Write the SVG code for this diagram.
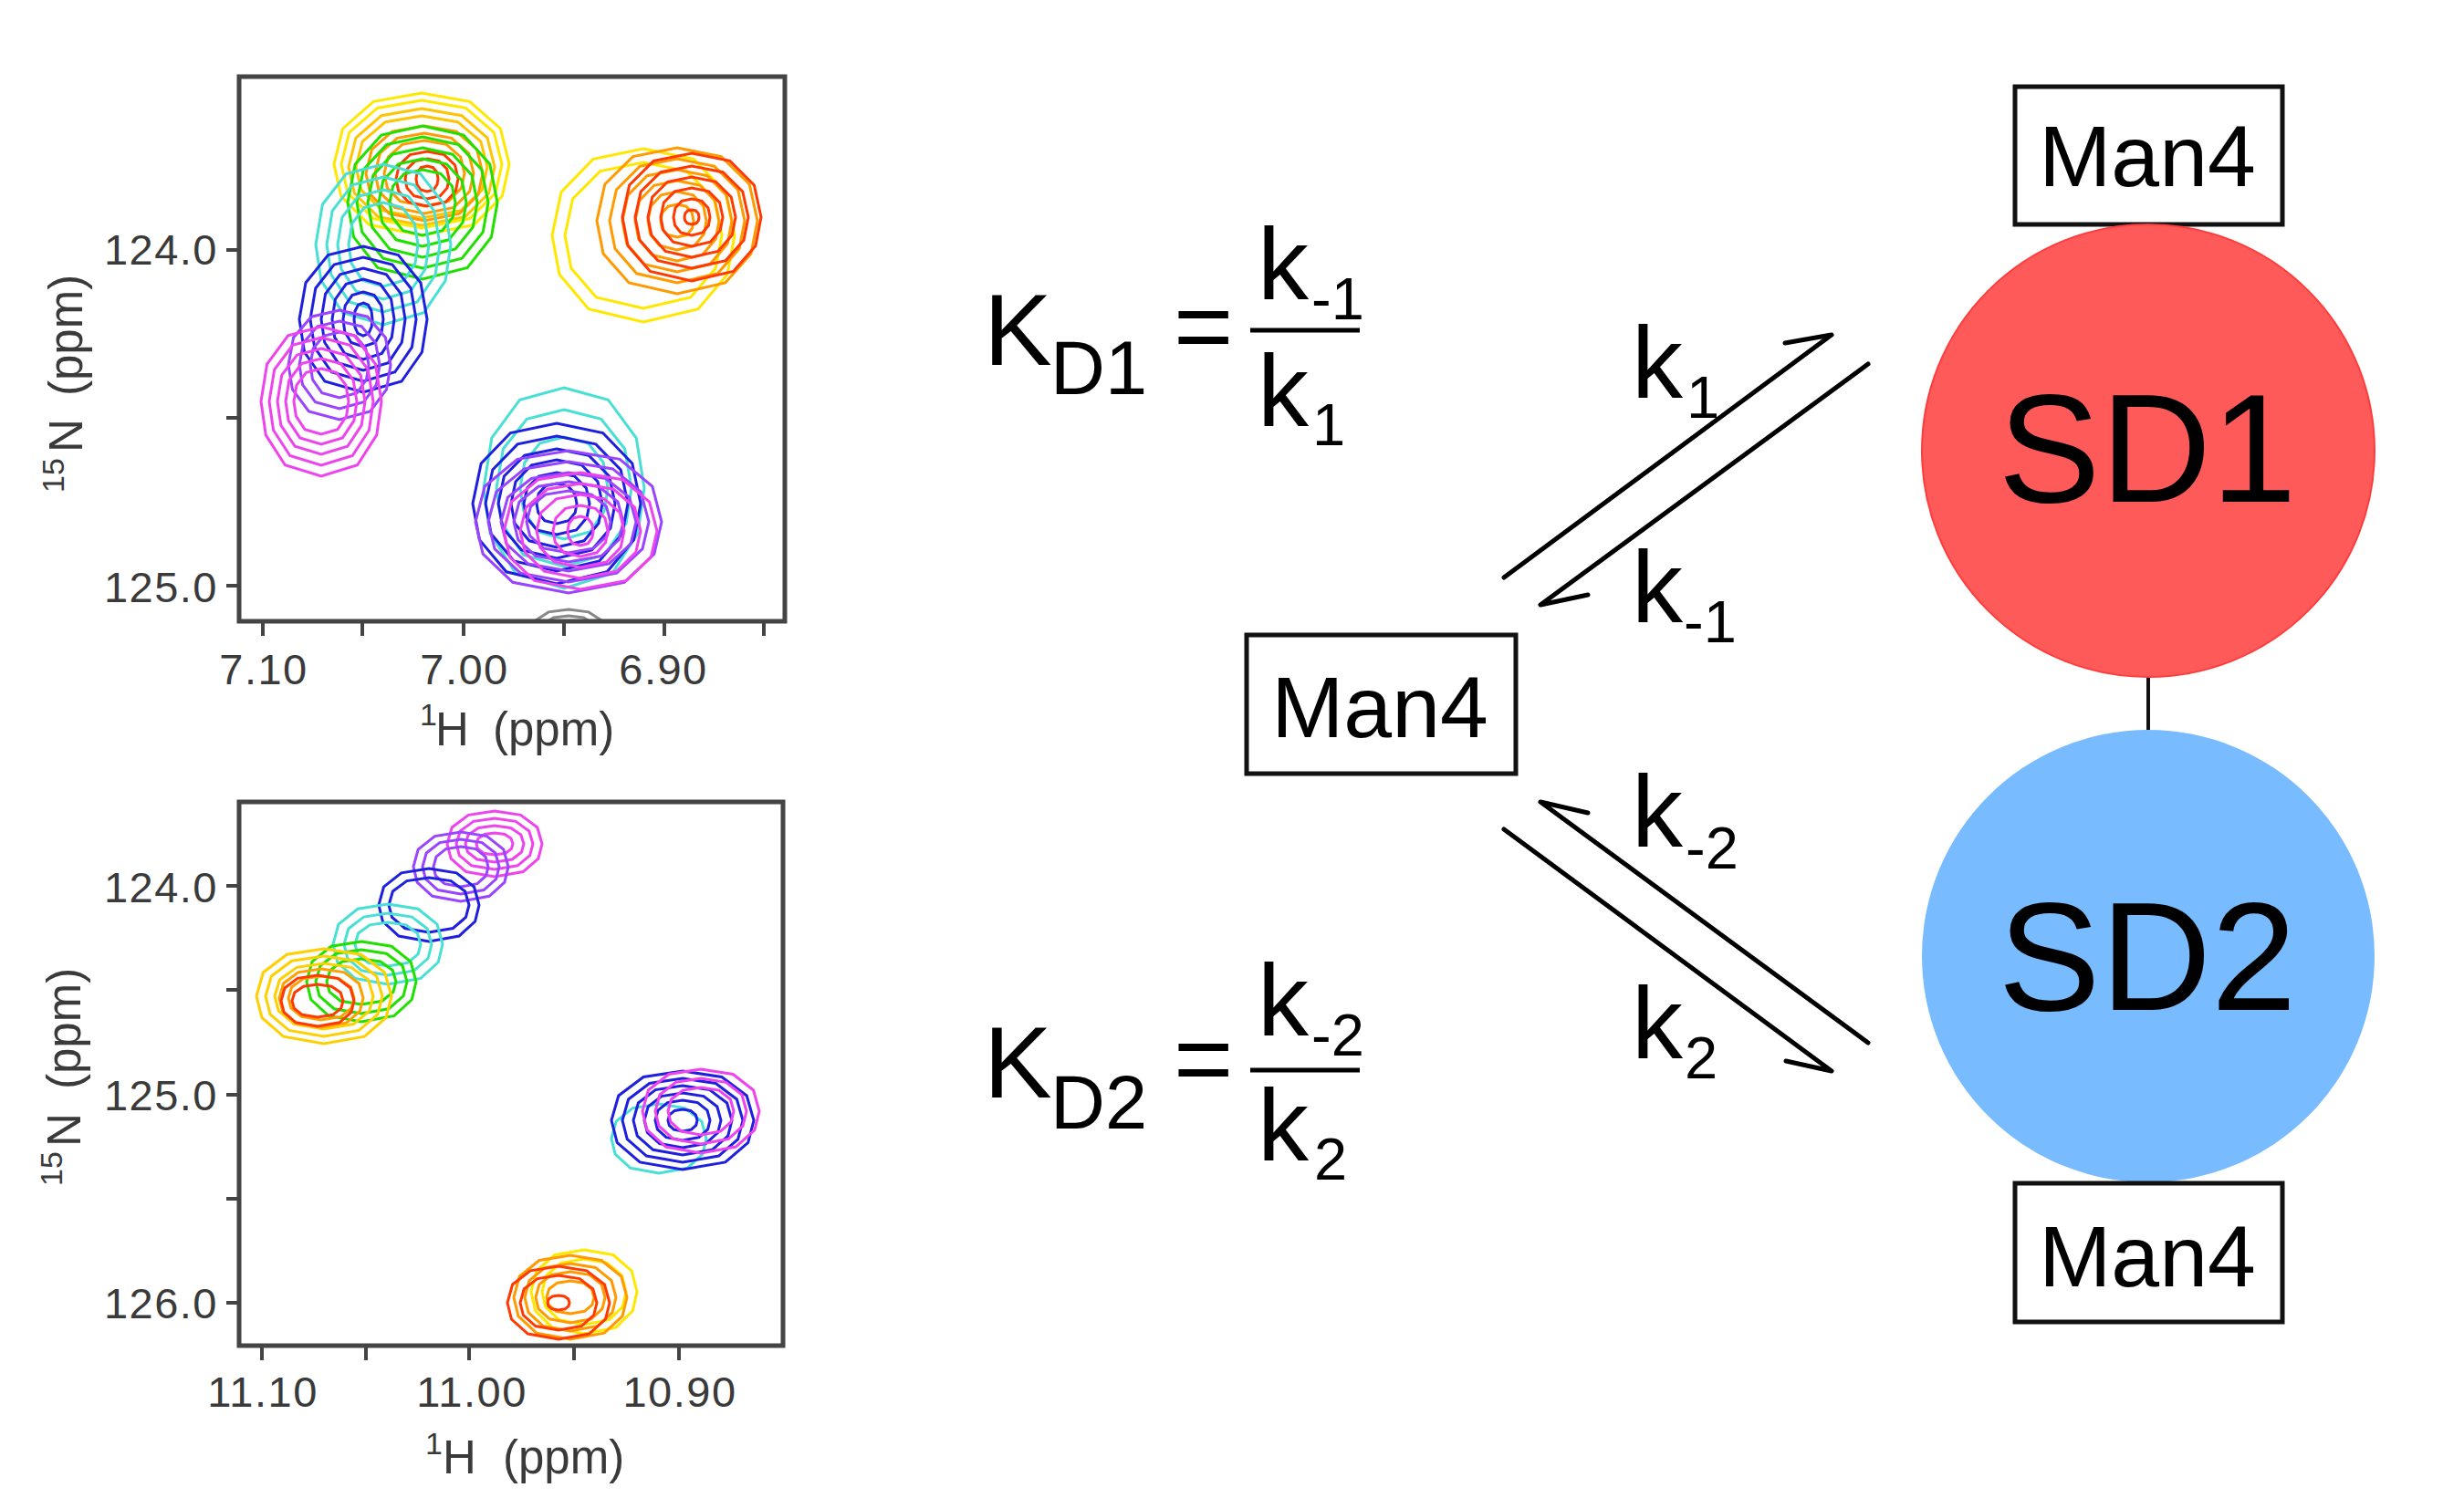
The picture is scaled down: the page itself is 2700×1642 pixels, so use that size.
<svg xmlns="http://www.w3.org/2000/svg" width="2700" height="1642" viewBox="0 0 2700 1642">
<style>
text{font-family:"Liberation Sans",Arial,sans-serif}
.ax{fill:#3a3a3a;font-size:47px;letter-spacing:1.5px}
.axl{fill:#3a3a3a;font-size:51px}
.sup{font-size:34px}
.frame{fill:none;stroke:#444;stroke-width:5}
.tick{stroke:#444;stroke-width:4}
.ct{stroke-width:3}
.eq{fill:#000;font-size:112px}
.sub{fill:#000;font-size:65px}
.box{fill:#fff;stroke:#111;stroke-width:5}
.lbl{font-size:95px;fill:#000;text-anchor:middle}
.sd{font-size:168px;fill:#000;text-anchor:middle}
.arr{fill:none;stroke:#000;stroke-width:5;stroke-linecap:round;stroke-linejoin:round}
</style>
<defs>
<path id="r" d="M0,-1 L0.55,-0.88 L0.9,-0.5 L1,0 L0.92,0.45 L0.6,0.85 L0,1 L-0.6,0.85 L-0.92,0.45 L-1,0 L-0.9,-0.5 L-0.55,-0.88 Z" fill="none" vector-effect="non-scaling-stroke"/>
<clipPath id="clipTop"><rect x="262" y="84" width="598" height="597"/></clipPath>
<clipPath id="clipBot"><rect x="262" y="879" width="596" height="596"/></clipPath>
</defs>
<rect width="2700" height="1642" fill="#fff"/>

<g id="spectrum-top">
<g class="ct" clip-path="url(#clipTop)">
<g stroke="#ffe800" transform="translate(462 180)"><use href="#r" transform="scale(96 78)"/><use href="#r" transform="scale(88 70)"/></g>
<g stroke="#ffc400" transform="translate(462 183)"><use href="#r" transform="scale(80 64)"/><use href="#r" transform="scale(72 56)"/></g>
<g stroke="#ff9a00" transform="translate(465 190)"><use href="#r" transform="scale(64 52)"/><use href="#r" transform="scale(54 44)"/><use href="#r" transform="scale(44 36)"/></g>
<g stroke="#ff3a00" transform="translate(468 196)"><use href="#r" transform="scale(34 30)"/><use href="#r" transform="scale(24 22)"/><use href="#r" transform="scale(12 14)"/></g>
<g stroke="#20e000" transform="translate(463 222)"><use href="#r" transform="scale(82 84)"/><use href="#r" transform="scale(72 72)"/><use href="#r" transform="scale(60 60)"/><use href="#r" transform="scale(48 48)"/><use href="#r" transform="scale(36 36)"/></g>
<g stroke="#48e0d4" transform="translate(420 268)"><use href="#r" transform="scale(74 88)"/><use href="#r" transform="scale(62 74)"/><use href="#r" transform="scale(50 60)"/><use href="#r" transform="scale(38 46)"/></g>
<g stroke="#1f1fe0" transform="translate(398 350)"><use href="#r" transform="scale(70 80)"/><use href="#r" transform="scale(58 68)"/><use href="#r" transform="scale(46 56)"/><use href="#r" transform="scale(34 44)"/><use href="#r" transform="scale(22 30)"/><use href="#r" transform="scale(10 18)"/></g>
<g stroke="#9944ff" transform="translate(372 400)"><use href="#r" transform="scale(56 60)"/><use href="#r" transform="scale(44 48)"/><use href="#r" transform="scale(32 36)"/></g>
<g stroke="#ee44ee" transform="translate(352 440)"><use href="#r" transform="scale(66 82)"/><use href="#r" transform="scale(57 70)"/><use href="#r" transform="scale(48 58)"/><use href="#r" transform="scale(39 47)"/><use href="#r" transform="scale(30 36)"/></g>
<g stroke="#ffe800" transform="translate(705 258)"><use href="#r" transform="scale(100 95)"/><use href="#r" transform="scale(86 80)"/></g>
<g stroke="#ff9a00" transform="translate(742 242)"><use href="#r" transform="scale(88 80)"/><use href="#r" transform="scale(74 68)"/><use href="#r" transform="scale(60 56)"/><use href="#r" transform="scale(46 44)"/><use href="#r" transform="scale(32 32)"/><use href="#r" transform="scale(18 18)"/></g>
<g stroke="#ff3a00" transform="translate(758 238)"><use href="#r" transform="scale(76 70)"/><use href="#r" transform="scale(62 56)"/><use href="#r" transform="scale(48 44)"/><use href="#r" transform="scale(34 32)"/><use href="#r" transform="scale(20 20)"/><use href="#r" transform="scale(8 8)"/></g>
<g stroke="#48e0d4" transform="translate(618 535)"><use href="#r" transform="scale(88 110)"/><use href="#r" transform="scale(74 86)"/><use href="#r" transform="scale(48 56)"/></g>
<g stroke="#1f1fe0" transform="translate(610 552)"><use href="#r" transform="scale(92 88)"/><use href="#r" transform="scale(78 74)"/><use href="#r" transform="scale(64 60)"/><use href="#r" transform="scale(50 48)"/><use href="#r" transform="scale(36 34)"/><use href="#r" transform="scale(22 22)"/></g>
<g stroke="#9944ff" transform="translate(623 572)"><use href="#r" transform="scale(102 78)"/><use href="#r" transform="scale(88 66)"/><use href="#r" transform="scale(74 54)"/><use href="#r" transform="scale(60 44)"/><use href="#r" transform="scale(46 34)"/></g>
<g stroke="#ee44ee" transform="translate(636 582)"><use href="#r" transform="scale(84 64)"/><use href="#r" transform="scale(66 52)"/><use href="#r" transform="scale(48 40)"/><use href="#r" transform="scale(30 28)"/><use href="#r" transform="scale(14 16)"/></g>
<g stroke="#888" transform="translate(623 692)"><use href="#r" transform="scale(40 24)"/><use href="#r" transform="scale(30 17)"/><use href="#r" transform="scale(20 10)"/></g>
</g>
<rect class="frame" x="262" y="84" width="598" height="597"/>
<path class="tick" d="M248,274H262M248,458H262M248,642H262M288,681V697M397,681V697M508,681V697M618,681V697M728,681V697M837,681V697"/>
<text class="ax" x="239" y="290" text-anchor="end">124.0</text>
<text class="ax" x="239" y="660" text-anchor="end">125.0</text>
<text class="ax" x="289" y="750" text-anchor="middle">7.10</text>
<text class="ax" x="509" y="750" text-anchor="middle">7.00</text>
<text class="ax" x="727" y="750" text-anchor="middle">6.90</text>
<text class="axl"><tspan class="sup" x="460" y="795">1</tspan><tspan x="477" y="817">H</tspan><tspan x="540" y="817">(ppm)</tspan></text>
<text class="axl" transform="translate(90 540) rotate(-90)"><tspan class="sup" x="0" y="-20">15</tspan><tspan x="44" y="0">N</tspan><tspan x="106" y="0">(ppm)</tspan></text>
</g>

<g id="spectrum-bottom">
<g class="ct" clip-path="url(#clipBot)">
<g stroke="#ee44ee" transform="translate(542 925)"><use href="#r" transform="scale(52 36)"/><use href="#r" transform="scale(42 28)"/><use href="#r" transform="scale(32 20)"/><use href="#r" transform="scale(20 12)"/></g>
<g stroke="#9944ff" transform="translate(505 950)"><use href="#r" transform="scale(52 38)"/><use href="#r" transform="scale(42 30)"/><use href="#r" transform="scale(30 22)"/></g>
<g stroke="#1f1fe0" transform="translate(470 992)"><use href="#r" transform="scale(55 40)"/><use href="#r" transform="scale(44 30)"/></g>
<g stroke="#48e0d4" transform="translate(425 1035)"><use href="#r" transform="scale(60 44)"/><use href="#r" transform="scale(48 34)"/><use href="#r" transform="scale(36 24)"/></g>
<g stroke="#20e000" transform="translate(396 1076)"><use href="#r" transform="scale(60 44)"/><use href="#r" transform="scale(50 35)"/><use href="#r" transform="scale(38 25)"/></g>
<g stroke="#ffd000" transform="translate(355 1092)"><use href="#r" transform="scale(74 52)"/><use href="#r" transform="scale(64 44)"/><use href="#r" transform="scale(54 36)"/></g>
<g stroke="#ffa000" transform="translate(352 1094)"><use href="#r" transform="scale(46 32)"/><use href="#r" transform="scale(36 24)"/></g>
<g stroke="#ff3a00" transform="translate(348 1097)"><use href="#r" transform="scale(40 28)"/><use href="#r" transform="scale(28 18)"/></g>
<g stroke="#48e0d4" transform="translate(722 1248)"><use href="#r" transform="scale(52 38)"/></g>
<g stroke="#1f1fe0" transform="translate(748 1228)"><use href="#r" transform="scale(78 54)"/><use href="#r" transform="scale(66 46)"/><use href="#r" transform="scale(54 38)"/><use href="#r" transform="scale(42 30)"/><use href="#r" transform="scale(30 22)"/><use href="#r" transform="scale(16 12)"/></g>
<g stroke="#ee44ee" transform="translate(768 1218)"><use href="#r" transform="scale(64 46)"/><use href="#r" transform="scale(50 36)"/><use href="#r" transform="scale(36 26)"/></g>
<g stroke="#ffe800" transform="translate(640 1416)"><use href="#r" transform="scale(58 46)"/><use href="#r" transform="scale(46 36)"/></g>
<g stroke="#ff9a00" transform="translate(625 1422)"><use href="#r" transform="scale(62 46)"/><use href="#r" transform="scale(50 37)"/><use href="#r" transform="scale(38 28)"/><use href="#r" transform="scale(26 18)"/></g>
<g stroke="#ff3a00" transform="translate(612 1428)"><use href="#r" transform="scale(56 40)"/><use href="#r" transform="scale(42 30)"/><use href="#r" transform="scale(12 8)"/></g>
</g>
<rect class="frame" x="262" y="879" width="596" height="596"/>
<path class="tick" d="M248,971H262M248,1085H262M248,1200H262M248,1314H262M248,1428H262M287,1475V1491M401,1475V1491M514,1475V1491M629,1475V1491M744,1475V1491"/>
<text class="ax" x="239" y="989" text-anchor="end">124.0</text>
<text class="ax" x="239" y="1217" text-anchor="end">125.0</text>
<text class="ax" x="239" y="1445" text-anchor="end">126.0</text>
<text class="ax" x="288" y="1542" text-anchor="middle">11.10</text>
<text class="ax" x="517" y="1542" text-anchor="middle">11.00</text>
<text class="ax" x="745" y="1542" text-anchor="middle">10.90</text>
<text class="axl"><tspan class="sup" x="466" y="1594">1</tspan><tspan x="485" y="1615">H</tspan><tspan x="551" y="1615">(ppm)</tspan></text>
<text class="axl" transform="translate(88 1300) rotate(-90)"><tspan class="sup" x="0" y="-20">15</tspan><tspan x="43" y="0">N</tspan><tspan x="106" y="0">(ppm)</tspan></text>
</g>

<g id="equation-kd1">
<text class="eq" x="1078" y="400">K</text>
<text class="eq" x="1151" y="432" style="font-size:83px">D1</text>
<text class="eq" x="1286" y="396">=</text>
<line x1="1370" y1="362" x2="1490" y2="362" stroke="#000" stroke-width="5"/>
<text class="eq" x="1378" y="328">k</text>
<text class="sub" x="1437" y="350">-1</text>
<text class="eq" x="1378" y="467">k</text>
<text class="sub" x="1438" y="488">1</text>
</g>

<g id="equation-kd2">
<text class="eq" x="1078" y="1203">K</text>
<text class="eq" x="1151" y="1237" style="font-size:83px">D2</text>
<text class="eq" x="1286" y="1199">=</text>
<line x1="1370" y1="1173" x2="1490" y2="1173" stroke="#000" stroke-width="5"/>
<text class="eq" x="1378" y="1135">k</text>
<text class="sub" x="1437" y="1157">-2</text>
<text class="eq" x="1378" y="1272">k</text>
<text class="sub" x="1440" y="1293">2</text>
</g>

<g id="connectors">
<polyline class="arr" points="1648,633 2007,367 1956,376"/>
<polyline class="arr" points="2047,399 1688,663 1740,652"/>
<polyline class="arr" points="2047,1143 1688,879 1740,891"/>
<polyline class="arr" points="1648,909 2007,1174 1957,1163"/>
<line x1="2354" y1="740" x2="2354" y2="802" stroke="#111" stroke-width="4"/>
<text class="eq" x="1788" y="436">k</text><text class="sub" x="1848" y="458">1</text>
<text class="eq" x="1788" y="682">k</text><text class="sub" x="1845" y="704">-1</text>
<text class="eq" x="1788" y="928">k</text><text class="sub" x="1847" y="952">-2</text>
<text class="eq" x="1788" y="1160">k</text><text class="sub" x="1846" y="1182">2</text>
</g>

<g id="man4-free">
<rect class="box" x="1366" y="696" width="295" height="152"/>
<text class="lbl" x="1512" y="808">Man4</text>
</g>

<g id="man4-top">
<rect class="box" x="2208" y="95" width="293" height="151"/>
<text class="lbl" x="2353" y="204">Man4</text>
</g>

<g id="sd1">
<circle cx="2354" cy="494" r="248" fill="#ff5a5a" stroke="#ff3c3c" stroke-width="2"/>
<text class="sd" x="2353" y="550">SD1</text>
</g>

<g id="sd2">
<circle cx="2354" cy="1048" r="248" fill="#78bcff"/>
<text class="sd" x="2353" y="1107">SD2</text>
</g>

<g id="man4-bottom">
<rect class="box" x="2208" y="1297" width="293" height="152"/>
<text class="lbl" x="2353" y="1410">Man4</text>
</g>
</svg>
